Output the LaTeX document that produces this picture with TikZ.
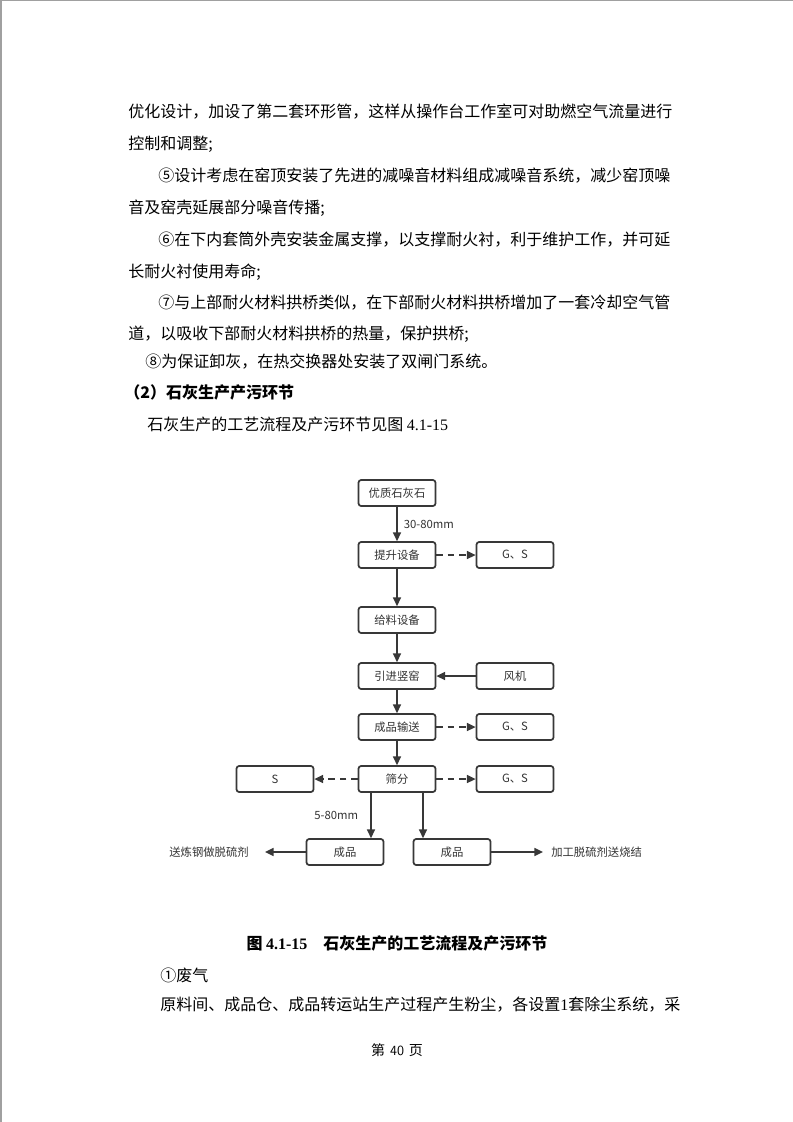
\documentclass[tikz,border=0pt]{standalone}
\usepackage{fontspec}
\setmainfont{Liberation Serif}
\newfontfamily\cjk{Noto Sans CJK SC}
\usetikzlibrary{arrows.meta}
\XeTeXlinebreaklocale "zh"
\XeTeXlinebreakskip=0pt plus 3pt
\newcommand\myjust[2]{\makebox[#1][s]{#2}}
\definecolor{linec}{HTML}{383838}
\definecolor{textc}{HTML}{333333}
\definecolor{bordc}{HTML}{A0A0A0}
\tikzset{
  proc/.style={draw=linec, line width=1.3pt, rounded corners=2pt,
    minimum width=57.75pt, minimum height=19.5pt, inner sep=0pt,
    font=\cjk\fontsize{8.5pt}{10pt}\selectfont, text=textc},
  flow/.style={draw=linec, line width=1.2pt, -{Triangle[length=6.5pt,width=6pt]}},
  emit/.style={flow, dash pattern=on 5pt off 3.5pt},
  lbl/.style={font=\cjk\fontsize{8.5pt}{10pt}\selectfont, text=textc, inner sep=0pt},
  body/.style={anchor=west, inner sep=0pt, font=\cjk\fontsize{12pt}{14pt}\selectfont},
  bodyb/.style={body, font=\cjk\bfseries\fontsize{12pt}{14pt}\selectfont}
}
\begin{document}
\begin{tikzpicture}[x=0.75pt,y=-0.75pt]
\useasboundingbox (0,0) rectangle (793,1122);
\fill[white] (0,0) rectangle (793,1122);
\draw[bordc, line width=1.2pt] (1,1122) -- (1,0);
\draw[bordc, line width=0.75pt] (0,0.5) -- (793,0.5);

% body text above
\node[body] (t1) at (128,112) {\myjust{406.5pt}{优化设计，加设了第二套环形管，这样从操作台工作室可对助燃空气流量进行}};
\node[body] (t2) at (128,144) {控制和调整;};
\node[body] (t3) at (158,176) {\myjust{384pt}{⑤设计考虑在窑顶安装了先进的减噪音材料组成减噪音系统，减少窑顶噪}};
\node[body] (t4) at (128,208) {音及窑壳延展部分噪音传播;};
\node[body] (t5) at (158,240) {\myjust{384pt}{⑥在下内套筒外壳安装金属支撑，以支撑耐火衬，利于维护工作，并可延}};
\node[body] (t6) at (128,272) {长耐火衬使用寿命;};
\node[body] (t7) at (158,303) {\myjust{384pt}{⑦与上部耐火材料拱桥类似，在下部耐火材料拱桥增加了一套冷却空气管}};
\node[body] (t8) at (128,334) {道，以吸收下部耐火材料拱桥的热量，保护拱桥;};
\node[body] (t9) at (145,362) {⑧为保证卸灰，在热交换器处安装了双闸门系统。};
\node[bodyb] (t10) at (124,392) {（2）石灰生产产污环节};
\node[body] (t11) at (147,424) {石灰生产的工艺流程及产污环节见图 {\rmfamily 4.1-15}};

% diagram
\node[proc] (ys) at (397,493) {优质石灰石};
\node[proc] (ts) at (397,555) {提升设备};
\node[proc] (gs1) at (515,555) {G、S};
\node[proc] (gl) at (397,620) {给料设备};
\node[proc] (yj) at (397,676) {引进竖窑};
\node[proc] (fj) at (515,676) {风机};
\node[proc] (cs) at (397,727) {成品输送};
\node[proc] (gs2) at (515,727) {G、S};
\node[proc] (sf) at (397,779) {筛分};
\node[proc] (s1) at (275,779) {S};
\node[proc] (gs3) at (515,779) {G、S};
\node[proc] (cpL) at (345,852) {成品};
\node[proc] (cpR) at (452,852) {成品};
\node[lbl, anchor=east, inner xsep=12pt] (outL) at (265,852) {送炼钢做脱硫剂};
\node[lbl, anchor=west, inner xsep=6pt] (outR) at (543,852) {加工脱硫剂送烧结};

\draw[flow] (ys) -- node[lbl, anchor=west, xshift=4.5pt] {30-80mm} (ts);
\draw[emit] (ts) -- (gs1);
\draw[flow] (ts) -- (gl);
\draw[flow] (gl) -- (yj);
\draw[flow] (fj) -- (yj);
\draw[flow] (yj) -- (cs);
\draw[emit] (cs) -- (gs2);
\draw[flow] (cs) -- (sf);
\draw[emit] (sf) -- (s1);
\draw[emit] (sf) -- (gs3);
\draw[flow] ([xshift=-19.5pt]sf.south) -- node[lbl, anchor=east, xshift=-9pt] {5-80mm} ([xshift=-19.5pt]sf.south |- cpL.north);
\draw[flow] ([xshift=19.5pt]sf.south) -- ([xshift=19.5pt]sf.south |- cpR.north);
\draw[flow] (cpL) -- (outL);
\draw[flow] (cpR) -- (outR);

% text below
\node[bodyb, anchor=center] (cap) at (397,943) {图 {\rmfamily\bfseries 4.1-15}\quad 石灰生产的工艺流程及产污环节};
\node[body] (b1) at (160,975) {①废气};
\node[body] (b2) at (160,1005) {\myjust{382pt}{原料间、成品仓、成品转运站生产过程产生粉尘，各设置{\rmfamily 1}套除尘系统，采}};
\node[inner sep=0pt, font=\cjk\fontsize{10.5pt}{12pt}\selectfont] (pg) at (397,1050) {第\hspace{0.35em}{\sffamily 40}\hspace{0.35em}页};
\end{tikzpicture}
\end{document}
